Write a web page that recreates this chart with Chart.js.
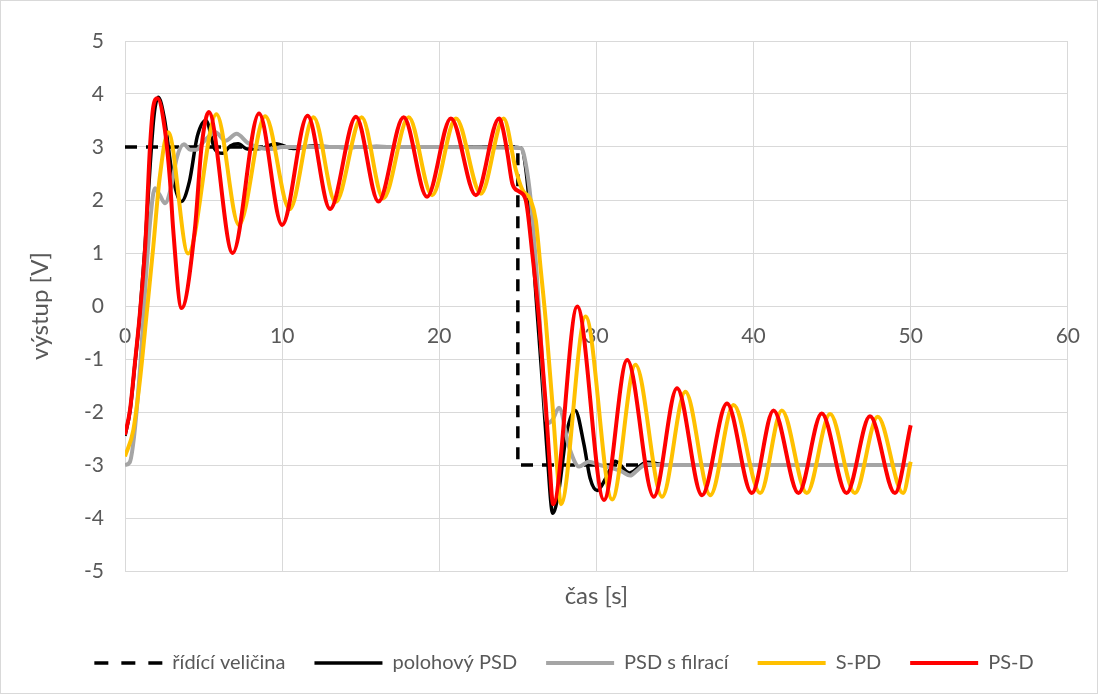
<!DOCTYPE html>
<html>
<head>
<meta charset="utf-8">
<script src="https://cdn.jsdelivr.net/npm/chart.js@4.4.1/dist/chart.umd.min.js"></script>
<style>
  html, body { margin: 0; padding: 0; background: #ffffff; }
  canvas { display: block; }
</style>
</head>
<body>
<canvas id="chart" width="1098" height="694"></canvas>
<script>
// Series labels
const seriesNames = ['řídící veličina', 'polohový PSD', 'PSD s filrací', 'S-PD', 'PS-D'];

// Reference signal (setpoint step at 25 s)
const refT = [0, 25, 25, 50];
const refV = [3, 3, -3, -3];

// Position PSD controller response
const psdT = [0, 0.32, 0.63, 0.95, 1.27, 1.6, 1.85, 2.12, 2.5, 3.0, 3.58, 4.1, 4.6, 5.15, 5.7, 6.2, 6.7, 7.2, 7.8, 8.6, 9.6, 10.7, 12, 14, 16, 18, 20, 22, 24, 25.2, 25.5, 25.85, 26.15, 26.5, 26.85, 27.22, 27.6, 28.1, 28.65, 29.2, 29.6, 30.05, 30.6, 31.2, 32.1, 33.2, 34.5, 50];
const psdV = [-2.45, -1.98, -1.1, -0.15, 1.1, 2.65, 3.6, 3.94, 3.55, 2.5, 1.97, 2.35, 3.2, 3.5, 2.97, 2.88, 3.02, 3.06, 2.96, 2.97, 3.06, 2.97, 3.02, 2.99, 3.01, 3.0, 3.0, 3.0, 3.0, 2.98, 2.6, 1.5, 0.2, -1.2, -2.7, -3.91, -3.5, -2.4, -1.97, -2.6, -3.25, -3.48, -3.25, -2.93, -3.15, -2.95, -3.0, -3.0];

// PSD with filtering
const filtT = [0, 0.3, 0.6, 1.0, 1.3, 1.6, 1.9, 2.2, 2.55, 2.9, 3.3, 3.75, 4.15, 4.55, 5.0, 5.75, 6.4, 7.1, 7.8, 8.6, 9.3, 10.0, 12, 15, 20, 25.2, 25.5, 25.82, 26.2, 26.5, 26.88, 27.2, 27.62, 28.25, 28.9, 29.5, 30.2, 31.0, 31.6, 32.15, 32.6, 33.2, 34, 50];
const filtV = [-3.0, -2.95, -2.4, -1.0, 0.4, 1.6, 2.22, 2.1, 1.94, 2.2, 2.8, 3.05, 2.95, 2.95, 3.1, 3.28, 3.12, 3.25, 3.08, 2.98, 2.96, 3.0, 3.0, 3.0, 3.0, 2.98, 2.69, 2.0, 0.6, -0.8, -2.21, -2.15, -1.92, -2.65, -3.03, -2.94, -3.0, -3.06, -3.12, -3.2, -3.1, -2.98, -3.0, -3.0];

// S-PD controller response
const spdT = [0, 0.53, 0.95, 1.38, 1.8, 2.2, 2.75, 4.02, 5.82, 7.25, 8.92, 10.48, 12.0, 13.4, 15.06, 16.44, 18.05, 19.54, 21.06, 22.65, 24.1, 24.87, 25.29, 25.82, 26.14, 26.46, 26.77, 27.2, 27.51, 27.74, 29.31, 31.0, 32.49, 34.18, 35.66, 37.25, 38.73, 40.42, 41.8, 43.39, 44.87, 46.45, 47.9, 49.52, 50.0];
const spdV = [-2.84, -2.34, -1.4, -0.14, 1.12, 2.4, 3.28, 0.99, 3.62, 1.53, 3.58, 1.83, 3.56, 1.96, 3.56, 2.03, 3.56, 2.09, 3.54, 2.12, 3.54, 2.57, 2.19, 2.0, 1.62, 0.68, -0.26, -1.84, -3.09, -3.74, -0.2, -3.65, -1.11, -3.6, -1.62, -3.57, -1.87, -3.53, -1.97, -3.53, -2.04, -3.53, -2.09, -3.53, -2.94];

// PS-D controller response
const psdDT = [0, 0.32, 0.63, 0.95, 1.3, 1.59, 1.8, 2.07, 2.54, 2.86, 3.07, 3.6, 4.44, 4.87, 5.33, 6.85, 8.53, 10.0, 11.62, 13.05, 14.7, 16.13, 17.73, 19.22, 20.74, 22.33, 23.81, 24.02, 24.34, 24.65, 25.08, 25.5, 25.92, 26.35, 26.77, 26.98, 27.25, 28.78, 30.48, 31.96, 33.65, 35.13, 36.72, 38.31, 39.89, 41.27, 42.86, 44.34, 45.92, 47.41, 49.0, 50.0];
const psdDV = [-2.43, -1.96, -1.08, -0.13, 1.2, 3.0, 3.76, 3.92, 3.32, 2.38, 1.43, -0.04, 1.43, 3.0, 3.66, 1.0, 3.63, 1.53, 3.59, 1.83, 3.57, 1.97, 3.56, 2.06, 3.54, 2.09, 3.54, 3.38, 2.88, 2.31, 2.16, 2.0, 0.99, -0.26, -1.84, -2.78, -3.74, -0.01, -3.66, -1.02, -3.6, -1.55, -3.57, -1.84, -3.53, -1.97, -3.53, -2.03, -3.53, -2.08, -3.53, -2.25];

// Axis ticks
const xTicks = [0, 10, 20, 30, 40, 50, 60];
const yTicks = [-5, -4, -3, -2, -1, 0, 1, 2, 3, 4, 5];

const FONT = 'Lato, "Open Sans", sans-serif';
const TEXT = '#595959';
const GRID = '#d9d9d9';

const pts = (t, v) => t.map((x, i) => ({ x, y: v[i] }));

function series(label, t, v, color, width, order, extra) {
  return Object.assign({
    label,
    data: pts(t, v),
    borderColor: color,
    backgroundColor: color,
    borderWidth: width,
    pointRadius: 0,
    fill: false,
    cubicInterpolationMode: 'monotone',
    order
  }, extra || {});
}

// White background and thin chart frame
const framePlugin = {
  id: 'frame',
  beforeDraw(chart) {
    const c = chart.ctx;
    c.save();
    c.fillStyle = '#ffffff';
    c.fillRect(0, 0, chart.width, chart.height);
    c.strokeStyle = '#d9d9d9';
    c.lineWidth = 1;
    c.strokeRect(0.5, 0.5, chart.width - 1, chart.height - 1);
    c.restore();
  }
};

new Chart(document.getElementById('chart'), {
  type: 'line',
  data: {
    datasets: [
      series(seriesNames[0], refT, refV, '#000000', 3.5, 5, { borderDash: [12, 9], tension: 0, cubicInterpolationMode: 'default' }),
      series(seriesNames[1], psdT, psdV, '#000000', 3.5, 4),
      series(seriesNames[2], filtT, filtV, '#a5a5a5', 4, 3),
      series(seriesNames[3], spdT, spdV, '#ffc000', 4, 2),
      series(seriesNames[4], psdDT, psdDV, '#ff0000', 4, 1)
    ]
  },
  options: {
    responsive: false,
    animation: false,
    devicePixelRatio: 1,
    layout: { padding: { left: 58, right: 28, top: 41, bottom: 11 } },
    scales: {
      x: {
        type: 'linear',
        min: 0, max: 60,
        position: { y: 0 },
        afterBuildTicks(s) { s.ticks = xTicks.map(v => ({ value: v })); },
        ticks: { color: TEXT, font: { family: FONT, size: 21 }, padding: 18, maxRotation: 0 },
        grid: { color: GRID, lineWidth: 1, drawTicks: false },
        border: { color: GRID, width: 1 }
      },
      xt: {
        type: 'linear',
        axis: 'x',
        position: 'bottom',
        min: 0, max: 60,
        grid: { display: false, drawTicks: false },
        border: { display: false },
        ticks: { display: false },
        title: { display: true, text: 'čas [s]', color: TEXT, font: { family: FONT, size: 24 }, padding: { top: 0, bottom: 13.6 } },
        afterFit(s) { s.height = 53; }
      },
      y: {
        type: 'linear',
        min: -5, max: 5,
        afterBuildTicks(s) { s.ticks = yTicks.map(v => ({ value: v })); },
        ticks: { color: TEXT, font: { family: FONT, size: 21 }, padding: 21 },
        grid: { color: GRID, lineWidth: 1, drawTicks: false },
        border: { color: GRID, width: 1 },
        title: { display: true, text: 'výstup [V]', color: TEXT, font: { family: FONT, size: 24 }, padding: { top: -32.4, bottom: 0 } },
        afterFit(s) { s.width = 67; }
      }
    },
    plugins: {
      legend: {
        position: 'bottom',
        labels: {
          usePointStyle: true,
          pointStyle: 'line',
          pointStyleWidth: 68,
          color: TEXT,
          font: { family: FONT, size: 20 },
          padding: 29,
          // legend samples are single line strokes; the setpoint sample is dashed
          generateLabels(chart) {
            const items = Chart.defaults.plugins.legend.labels.generateLabels(chart);
            items.forEach(it => {
              const ds = chart.data.datasets[it.datasetIndex];
              it.pointStyle = 'line';
              it.strokeStyle = ds.borderColor;
              it.lineWidth = ds.borderWidth;
              it.lineDash = ds.borderDash ? [14, 13] : [];
            });
            return items;
          },
          sort: (a, b) => a.datasetIndex - b.datasetIndex
        }
      },
      tooltip: { enabled: false }
    }
  },
  plugins: [framePlugin]
});
</script>
</body>
</html>
